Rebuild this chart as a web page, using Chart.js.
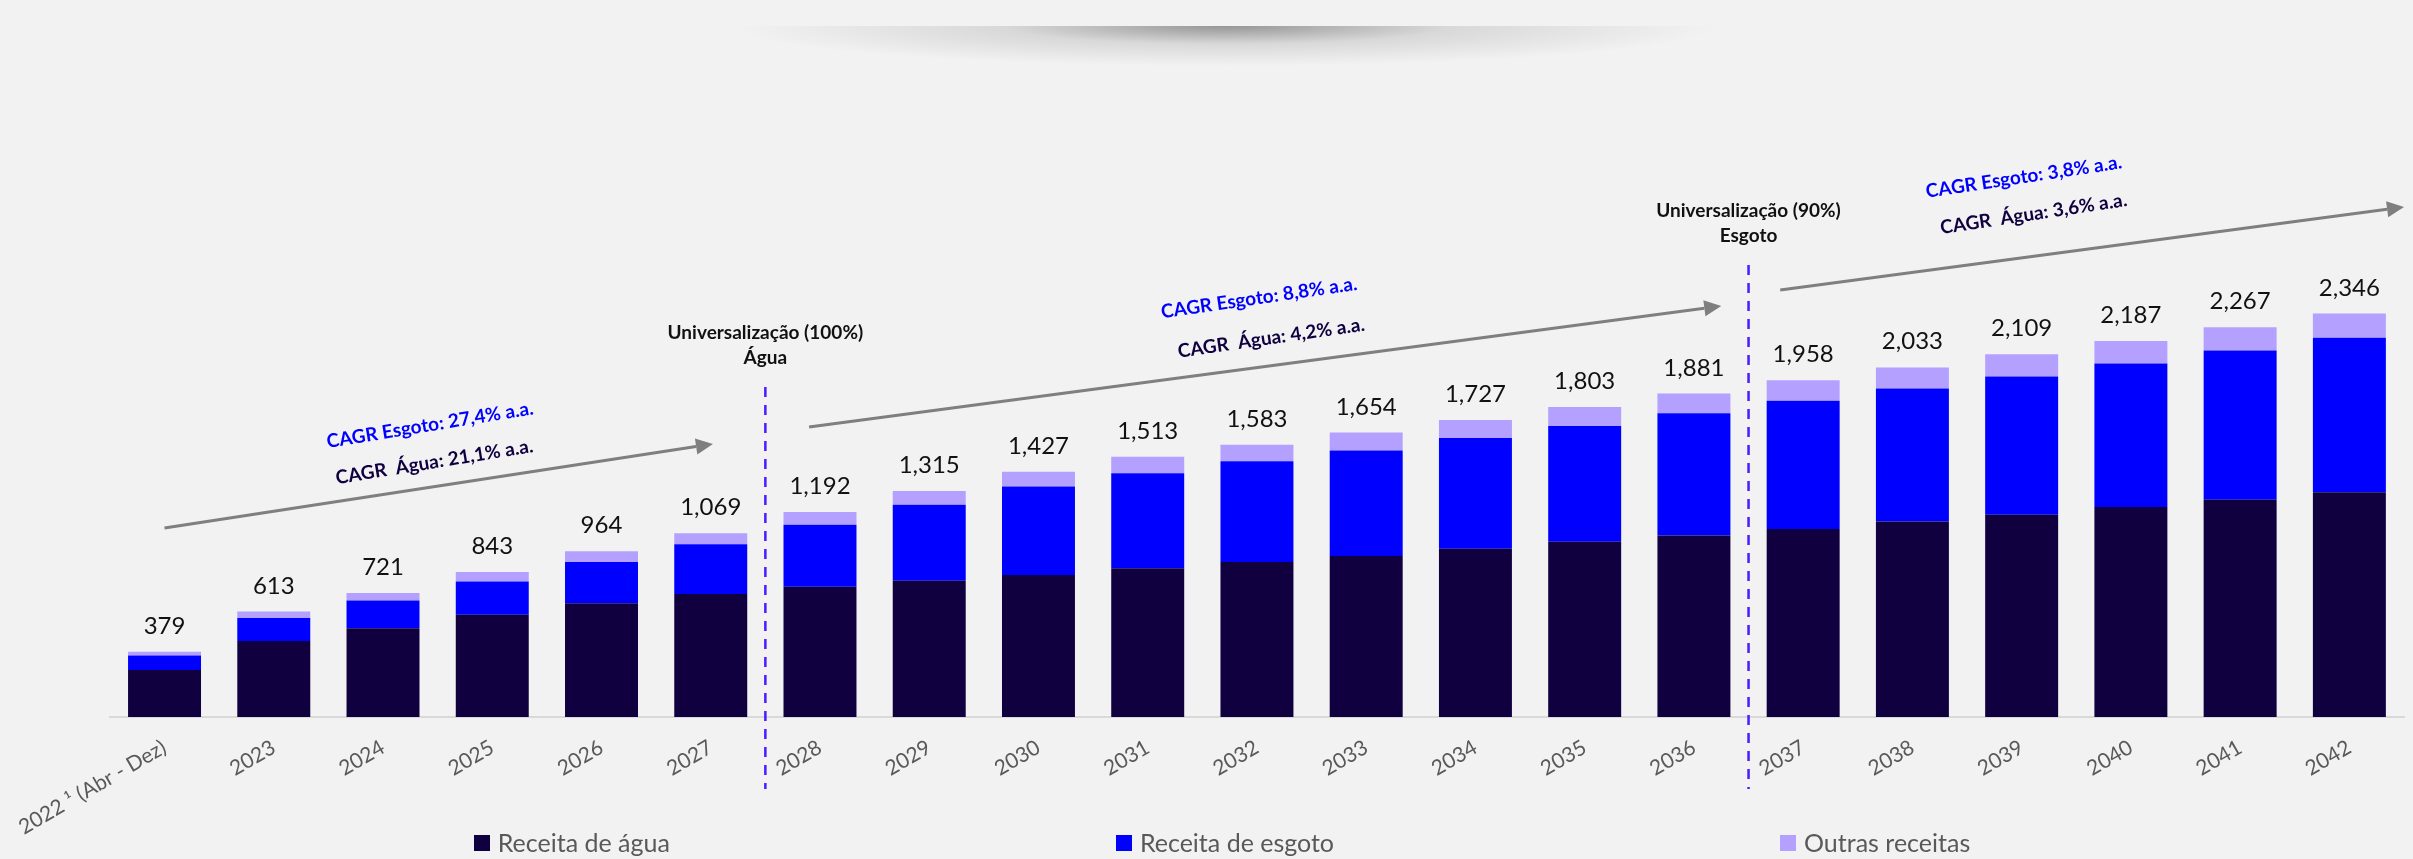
<!DOCTYPE html>
<html lang="pt-BR">
<head>
<meta charset="UTF-8">
<title>Receita projetada</title>
<script src="https://cdn.jsdelivr.net/npm/chart.js"></script>
<style>
  html, body { margin: 0; padding: 0; background: #f2f2f2; overflow: hidden; }
  body { font-family: Lato, "Open Sans", sans-serif; }
  #wrap { position: relative; width: 2413px; height: 859px; }
  #chart { position: absolute; left: 0; top: 0; }
  /* soft shadow band at the top of the slide */
  #shade {
    position: absolute; left: 734px; top: 26px; width: 984px; height: 40px;
    background: radial-gradient(50% 100% at 50% 0%, rgba(145,145,145,0.95) 0%, rgba(195,195,195,0.55) 45%, rgba(242,242,242,0) 100%);
  }
  #legend {
    position: absolute; left: 0; right: 0; top: 828px;
    display: flex; justify-content: center; gap: 446px; padding-left: 31px;
  }
  .item { display: flex; align-items: center; font-size: 25px; line-height: 29px; color: #595959; }
  .swatch { width: 16px; height: 16px; margin-right: 8px; }
</style>
</head>
<body>
<div id="wrap">
  <div id="shade"></div>
  <canvas id="chart" width="2413" height="859"></canvas>
  <div id="legend"></div>
</div>

<script>
  // R$ milhões por ano
  const categories = ['2022 ¹ (Abr - Dez)', '2023', '2024', '2025', '2026', '2027', '2028', '2029', '2030', '2031',
    '2032', '2033', '2034', '2035', '2036', '2037', '2038', '2039', '2040', '2041', '2042'];
  const agua   = [274, 442, 516, 594, 661, 716, 757, 792, 826, 865, 902, 937, 978, 1019, 1055, 1094, 1137, 1176, 1222, 1263, 1307];
  const esgoto = [83, 134, 161, 194, 240, 289, 361, 442, 514, 553, 586, 613, 644, 673, 712, 745, 774, 805, 834, 869, 899];
  const outras = [22, 37, 44, 55, 63, 64, 74, 81, 87, 95, 95, 104, 105, 111, 114, 119, 122, 128, 131, 135, 140];

  const DARK = '#110040';
  const BLUE = '#0000ff';
  const LILAC = '#b4a0ff';

  // marcos de universalização (linha tracejada entre categorias)
  const marcos = [
    { at: 5.5, top: 1919, lines: ['Universalização (100%)', 'Água'] },
    { at: 14.5, top: 2629, lines: ['Universalização (90%)', 'Esgoto'] }
  ];

  // setas de tendência, em coordenadas [índice, valor]
  const setas = [
    { from: [0, 1099], to: [5.02, 1588] },
    { from: [5.9, 1687], to: [14.25, 2390] },
    { from: [14.79, 2483], to: [20.5, 2966] }
  ];

  const cagr = [
    { at: [2.43, 1698], text: 'CAGR Esgoto: 27,4% a.a.', color: BLUE, angle: -9.3 },
    { at: [2.47, 1483], text: 'CAGR  Água: 21,1% a.a.', color: DARK, angle: -9.3 },
    { at: [10.02, 2437], text: 'CAGR Esgoto: 8,8% a.a.', color: BLUE, angle: -8.3 },
    { at: [10.13, 2204], text: 'CAGR  Água: 4,2% a.a.', color: DARK, angle: -8.3 },
    { at: [17.02, 3141], text: 'CAGR Esgoto: 3,8% a.a.', color: BLUE, angle: -8.6 },
    { at: [17.11, 2926], text: 'CAGR  Água: 3,6% a.a.', color: DARK, angle: -8.6 }
  ];

  // total acima de cada pilha
  const totalLabels = {
    id: 'totalLabels',
    afterDatasetsDraw(chart) {
      const { ctx, scales: { y } } = chart;
      const meta = chart.getDatasetMeta(chart.data.datasets.length - 1);
      ctx.save();
      ctx.font = '24px Lato';
      ctx.fillStyle = '#111';
      ctx.textAlign = 'center';
      ctx.textBaseline = 'alphabetic';
      categories.forEach((c, i) => {
        const total = agua[i] + esgoto[i] + outras[i];
        ctx.fillText(total.toLocaleString('en-US'), meta.data[i].x, y.getPixelForValue(total) - 18);
      });
      ctx.restore();
    }
  };

  const extras = {
    id: 'extras',
    afterDatasetsDraw(chart) {
      const { ctx, chartArea, scales: { x, y } } = chart;
      ctx.save();

      // linhas tracejadas + títulos
      marcos.forEach(m => {
        const px = x.getPixelForValue(m.at);
        const top = y.getPixelForValue(m.top);
        ctx.strokeStyle = '#4a1cff';
        ctx.lineWidth = 2.5;
        ctx.setLineDash([10, 8]);
        ctx.beginPath();
        ctx.moveTo(px, top);
        ctx.lineTo(px, chartArea.bottom + 72);
        ctx.stroke();
        ctx.setLineDash([]);
        ctx.font = 'bold 19px Lato';
        ctx.fillStyle = '#111';
        ctx.textAlign = 'center';
        ctx.textBaseline = 'alphabetic';
        ctx.fillText(m.lines[0], px, top - 48);
        ctx.fillText(m.lines[1], px, top - 23);
      });

      // setas
      ctx.strokeStyle = '#7f7f7f';
      ctx.fillStyle = '#7f7f7f';
      ctx.lineWidth = 3;
      setas.forEach(s => {
        const x1 = x.getPixelForValue(s.from[0]), y1 = y.getPixelForValue(s.from[1]);
        const x2 = x.getPixelForValue(s.to[0]), y2 = y.getPixelForValue(s.to[1]);
        const a = Math.atan2(y2 - y1, x2 - x1);
        const head = 17;
        ctx.beginPath();
        ctx.moveTo(x1, y1);
        ctx.lineTo(x2 - head * Math.cos(a), y2 - head * Math.sin(a));
        ctx.stroke();
        ctx.save();
        ctx.translate(x2, y2);
        ctx.rotate(a);
        ctx.beginPath();
        ctx.moveTo(0, 0);
        ctx.lineTo(-head, -8);
        ctx.lineTo(-head, 8);
        ctx.closePath();
        ctx.fill();
        ctx.restore();
      });

      // textos de CAGR inclinados
      ctx.font = 'bold 19px Lato';
      ctx.textAlign = 'center';
      ctx.textBaseline = 'middle';
      cagr.forEach(t => {
        ctx.save();
        ctx.translate(x.getPixelForValue(t.at[0]), y.getPixelForValue(t.at[1]));
        ctx.rotate(t.angle * Math.PI / 180);
        ctx.fillStyle = t.color;
        ctx.fillText(t.text, 0, 0);
        ctx.restore();
      });

      ctx.restore();
    }
  };

  const chart = new Chart(document.getElementById('chart'), {
    type: 'bar',
    data: {
      labels: categories,
      datasets: [
        { label: 'Receita de água', data: agua, backgroundColor: DARK },
        { label: 'Receita de esgoto', data: esgoto, backgroundColor: BLUE },
        { label: 'Outras receitas', data: outras, backgroundColor: LILAC }
      ]
    },
    options: {
      responsive: false,
      animation: false,
      layout: { padding: { top: 98, left: 108, right: 9, bottom: 0 } },
      datasets: { bar: { categoryPercentage: 1, barPercentage: 0.668, borderWidth: 0 } },
      plugins: { legend: { display: false }, tooltip: { enabled: false } },
      scales: {
        x: {
          stacked: true,
          grid: { display: false, drawTicks: false },
          border: { display: true, color: '#d9d9d9', width: 2 },
          ticks: {
            autoSkip: false, minRotation: 30, maxRotation: 30, padding: 18,
            color: '#595959', font: { family: 'Lato', size: 21 }
          },
          afterFit(scale) { scale.height = 142; }
        },
        y: { stacked: true, display: false, min: 0, max: 3600 }
      }
    },
    plugins: [totalLabels, extras]
  });

  // legenda em HTML, a partir dos datasets
  const legend = document.getElementById('legend');
  chart.data.datasets.forEach(ds => {
    const item = document.createElement('div');
    item.className = 'item';
    const sw = document.createElement('span');
    sw.className = 'swatch';
    sw.style.background = ds.backgroundColor;
    item.appendChild(sw);
    item.appendChild(document.createTextNode(ds.label));
    legend.appendChild(item);
  });
</script>
</body>
</html>
